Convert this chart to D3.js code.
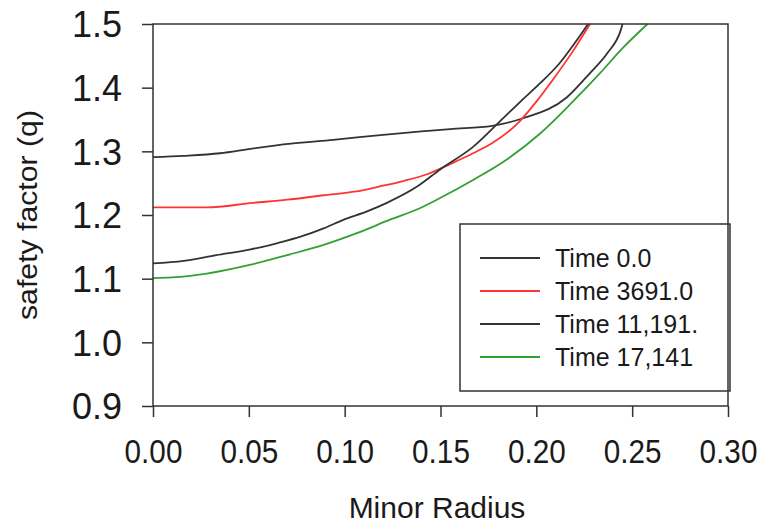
<!DOCTYPE html>
<html>
<head>
<meta charset="utf-8">
<script src="https://cdn.jsdelivr.net/npm/d3@7"></script>
<style>
  body { margin: 0; background: #fff; }
  text { font-family: "Liberation Sans", Arial, sans-serif; fill: #1a1a1a; }
</style>
</head>
<body>
<svg id="chart" width="772" height="525"></svg>
<script>
const chartWidth = 772;
const chartHeight = 525;

// values
const seriesNames = ["Time 0.0", "Time 3691.0", "Time 11,191.", "Time 17,141"];
const seriesColors = ["#333333", "#ff3333", "#333333", "#33a033"];

const radius0 = [0, 0.016, 0.035, 0.051, 0.072, 0.094, 0.120, 0.143, 0.155, 0.177, 0.193, 0.216, 0.228, 0.237, 0.244, 0.245];
const q0      = [1.291, 1.293, 1.297, 1.304, 1.312, 1.318, 1.326, 1.332, 1.335, 1.340, 1.352, 1.385, 1.423, 1.454, 1.490, 1.500];

const radius1 = [0, 0.028, 0.052, 0.070, 0.089, 0.106, 0.120, 0.130, 0.143, 0.155, 0.167, 0.177, 0.190, 0.200, 0.209, 0.219, 0.228];
const q1      = [1.212, 1.212, 1.219, 1.224, 1.231, 1.237, 1.246, 1.253, 1.264, 1.280, 1.297, 1.313, 1.343, 1.378, 1.414, 1.457, 1.500];

const radius2 = [0, 0.016, 0.033, 0.051, 0.065, 0.077, 0.089, 0.099, 0.112, 0.122, 0.138, 0.150, 0.167, 0.181, 0.192, 0.202, 0.212, 0.221, 0.227];
const q2      = [1.124, 1.128, 1.137, 1.146, 1.156, 1.166, 1.179, 1.192, 1.206, 1.219, 1.245, 1.272, 1.307, 1.347, 1.379, 1.407, 1.438, 1.474, 1.500];

const radius3 = [0, 0.010, 0.028, 0.051, 0.070, 0.087, 0.106, 0.124, 0.138, 0.150, 0.167, 0.185, 0.202, 0.219, 0.233, 0.245, 0.258];
const q3      = [1.101, 1.102, 1.108, 1.122, 1.137, 1.151, 1.171, 1.193, 1.209, 1.227, 1.255, 1.288, 1.328, 1.378, 1.422, 1.462, 1.500];

const xTicks = [0, 0.05, 0.10, 0.15, 0.20, 0.25, 0.30];
const yTicks = [0.9, 1.0, 1.1, 1.2, 1.3, 1.4, 1.5];

const margin = {top: 24, right: 44, bottom: 119, left: 153};

function make_scales() {
  return {
    x: d3.scaleLinear().domain([0, 0.30]).range([margin.left, chartWidth - margin.right]),
    y: d3.scaleLinear().domain([0.9, 1.5]).range([chartHeight - margin.bottom, margin.top])
  };
}

function draw_axes(svg, scales) {
  let x_axis = d3.axisBottom(scales.x)
    .tickValues(xTicks)
    .tickFormat(d3.format(".2f"))
    .tickSize(11)
    .tickSizeOuter(0);
  let gx = svg.append("g")
    .attr("transform", `translate(0, ${chartHeight - margin.bottom})`)
    .call(x_axis);
  gx.select(".domain").remove();
  gx.selectAll("line").attr("stroke", "#333").attr("stroke-width", 1.5);
  gx.selectAll("text")
    .attr("y", 57).attr("dy", 0)
    .attr("transform", "scale(0.9,1)")
    .style("font-size", "33px")
    .attr("fill", "#1a1a1a");

  let y_axis = d3.axisLeft(scales.y)
    .tickValues(yTicks)
    .tickFormat(d3.format(".1f"))
    .tickSize(11)
    .tickPadding(20)
    .tickSizeOuter(0);
  let gy = svg.append("g")
    .attr("transform", `translate(${margin.left}, 0)`)
    .call(y_axis);
  gy.select(".domain").remove();
  gy.selectAll("line").attr("stroke", "#333").attr("stroke-width", 1.5);
  gy.selectAll("text")
    .attr("dy", "0.36em")
    .style("font-size", "36px")
    .attr("fill", "#111");

  // frame round the plot
  svg.append("rect")
    .attr("x", margin.left)
    .attr("y", margin.top)
    .attr("width", chartWidth - margin.left - margin.right)
    .attr("height", chartHeight - margin.top - margin.bottom)
    .attr("fill", "none")
    .attr("stroke", "#333")
    .attr("stroke-width", 1.5);

  svg.append("text")
    .attr("x", 437)
    .attr("y", 518)
    .attr("text-anchor", "middle")
    .style("font-size", "30px")
    .attr("fill", "#222")
    .text("Minor Radius");

  svg.append("text")
    .attr("transform", `translate(37, ${(margin.top + chartHeight - margin.bottom) / 2}) rotate(-90)`)
    .attr("text-anchor", "middle")
    .style("font-size", "27px")
    .attr("textLength", 210)
    .attr("lengthAdjust", "spacingAndGlyphs")
    .attr("fill", "#222")
    .text("safety factor (q)");
}

function draw_lines(svg, scales) {
  let radii = [radius0, radius1, radius2, radius3];
  let qs = [q0, q1, q2, q3];
  let series = seriesNames.map((name, i) => ({
    name: name,
    color: seriesColors[i],
    values: radii[i].map((r, j) => ({r: r, q: qs[i][j]}))
  }));

  let path_generator = d3.line()
    .x(d => scales.x(d.r))
    .y(d => scales.y(d.q))
    .curve(d3.curveMonotoneX);

  svg.append("g")
    .selectAll("path")
    .data(series).enter()
    .append("path")
    .attr("d", d => path_generator(d.values))
    .attr("stroke", d => d.color)
    .attr("stroke-width", 1.8)
    .attr("fill", "none");

  // legend
  let legend = svg.append("g");
  legend.append("rect")
    .attr("x", 460).attr("y", 224)
    .attr("width", 270).attr("height", 167)
    .attr("fill", "#fff")
    .attr("stroke", "#333")
    .attr("stroke-width", 1.5);

  let rows = legend.selectAll("g.row")
    .data(series).enter()
    .append("g")
    .attr("class", "row")
    .attr("transform", (d, i) => `translate(480, ${258 + i * 33})`);
  rows.append("line")
    .attr("x1", 0).attr("x2", 60)
    .attr("stroke", d => d.color)
    .attr("stroke-width", 1.8);
  rows.append("text")
    .attr("x", 75)
    .attr("dy", "0.36em")
    .style("font-size", "25px")
    .attr("fill", "#1a1a1a")
    .text(d => d.name);
}

function visualize() {
  let svg = d3.select("#chart");
  let scales = make_scales();
  draw_lines(svg, scales);
  draw_axes(svg, scales);
}

visualize();
</script>
</body>
</html>
